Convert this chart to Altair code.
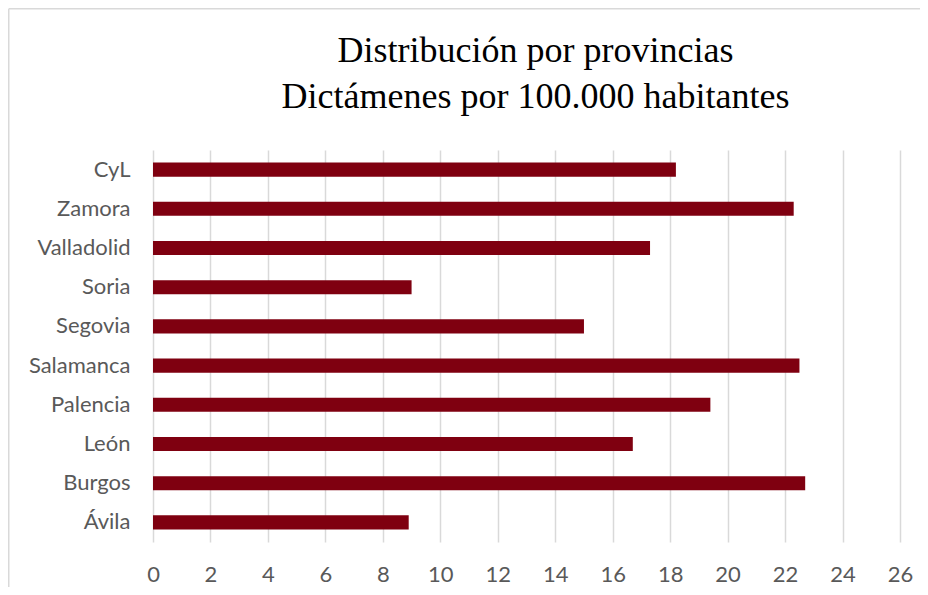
import altair as alt
import pandas as pd

provincias = ["CyL", "Zamora", "Valladolid", "Soria", "Segovia", "Salamanca",
              "Palencia", "León", "Burgos", "Ávila"]
dictamenes = [18.2, 22.3, 17.3, 9.0, 15.0, 22.5, 19.4, 16.7, 22.7, 8.9]
x_ticks = list(range(0, 27, 2))
title_lines = ["Distribución por provincias", "Dictámenes por 100.000 habitantes"]

df = pd.DataFrame({"provincia": provincias, "valor": dictamenes})

W, H = 747, 392
PAD_L, PAD_T, PAD_R, PAD_B = 145, 142, 20, 45

bars = alt.Chart(df).mark_bar(color="#7f0010").encode(
    x=alt.X("valor:Q",
            scale=alt.Scale(domain=[0, 26], nice=False, zero=True),
            axis=alt.Axis(values=x_ticks, title=None, grid=True, gridColor="#d9d9d9",
                          gridWidth=1.5, domain=False, ticks=False,
                          labelFont="Lato", labelFontSize=22, labelColor="#595959",
                          labelPadding=22, labelFlush=False)),
    y=alt.Y("provincia:N", sort=provincias,
            scale=alt.Scale(paddingInner=0.64, paddingOuter=0.32),
            axis=alt.Axis(title=None, domain=False, ticks=False, grid=False,
                          labelFont="Lato", labelFontSize=22, labelColor="#595959",
                          labelPadding=23)),
)

frame_src = alt.Data(values=[{"a": 1}])
top_edge = alt.Chart(frame_src).mark_rule(color="#d9d9d9", strokeWidth=1.5).encode(
    x=alt.value(-PAD_L + 0.75), x2=alt.value(W + PAD_R), y=alt.value(-PAD_T + 0.75)
)
left_edge = alt.Chart(frame_src).mark_rule(color="#d9d9d9", strokeWidth=1.5).encode(
    x=alt.value(-PAD_L + 0.75), y=alt.value(-PAD_T + 0.75), y2=alt.value(H + PAD_B)
)

title_src = alt.Data(values=[{"t": "\n".join(title_lines)}])
title = alt.Chart(title_src).mark_text(
    font="Liberation Serif", fontSize=36, color="#000000", lineBreak="\n",
    lineHeight=46, align="center", baseline="alphabetic"
).encode(
    text="t:N", x=alt.value(W / 2 + 9), y=alt.value(-88)
)

chart = alt.layer(top_edge, left_edge, title, bars).properties(
    width=W,
    height=H,
    autosize=alt.AutoSizeParams(type="none"),
    padding={"left": PAD_L, "top": PAD_T, "right": PAD_R, "bottom": PAD_B},
).configure(background="white", view=alt.ViewConfig(stroke=None))

chart.save("out.html", embed_options={"renderer": "svg", "actions": False})
